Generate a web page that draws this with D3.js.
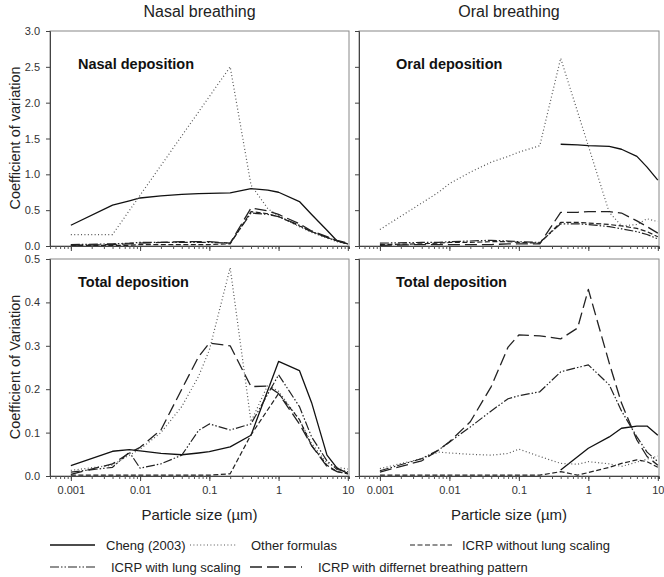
<!DOCTYPE html>
<html><head><meta charset="utf-8">
<script src="https://cdn.jsdelivr.net/npm/d3@7"></script>
<style>
body{margin:0;background:#fff;}
svg text{font-family:"Liberation Sans",Arial,sans-serif;}
</style></head><body>
<svg id="c" width="664" height="577"></svg>
<script>
// Particle sizes (µm)
const sizes = [0.001, 0.004, 0.007, 0.01, 0.02, 0.04, 0.07, 0.1, 0.2, 0.4, 0.7, 1, 2, 3, 5, 7, 10];
const seriesNames = ["Cheng (2003)", "Other formulas", "ICRP without lung scaling", "ICRP with lung scaling", "ICRP with differnet breathing pattern"];
const columnTitles = ["Nasal breathing", "Oral breathing"];
const panelTitles = ["Nasal deposition", "Oral deposition", "Total deposition", "Total deposition"];
const topTicks = [0, 0.5, 1.0, 1.5, 2.0, 2.5, 3.0];
const bottomTicks = [0, 0.1, 0.2, 0.3, 0.4, 0.5];
const xTickLabels = [0.001, 0.01, 0.1, 1, 10];

// Nasal breathing – nasal deposition
const nasalCheng  = [0.29, 0.57, 0.63, 0.67, 0.70, 0.72, 0.73, 0.735, 0.74, 0.80, 0.78, 0.75, 0.62, 0.44, 0.22, 0.07, 0.03];
const nasalOther  = [0.16, 0.16, null, null, null, null, null, null, 2.50, 0.85, 0.52, 0.42, 0.27, 0.19, 0.11, 0.06, 0.03];
const nasalNoLung = [0.01, 0.01, 0.01, 0.02, 0.02, 0.02, 0.02, 0.02, 0.03, 0.48, 0.45, 0.41, 0.28, 0.20, 0.12, 0.07, 0.03];
const nasalLung   = [0.02, 0.03, 0.04, 0.05, 0.05, 0.05, 0.05, 0.05, 0.04, 0.46, 0.44, 0.41, 0.29, 0.20, 0.12, 0.07, 0.03];
const nasalBreath = [0.01, 0.02, 0.03, 0.04, 0.05, 0.06, 0.06, 0.06, 0.04, 0.53, 0.49, 0.44, 0.31, 0.21, 0.13, 0.08, 0.04];

// Oral breathing – oral deposition
const oralCheng  = [null, null, null, null, null, null, null, null, null, 1.42, 1.41, 1.40, 1.39, 1.35, 1.25, 1.10, 0.92];
const oralOther  = [0.23, 0.60, 0.75, 0.87, 1.03, 1.17, 1.25, 1.31, 1.40, 2.62, null, null, 0.47, 0.28, 0.30, 0.38, 0.34];
const oralNoLung = [0.02, 0.03, 0.04, 0.05, 0.05, 0.06, 0.06, 0.05, 0.04, 0.33, 0.33, 0.32, 0.30, 0.28, 0.245, 0.20, 0.13];
const oralLung   = [0.04, 0.05, 0.05, 0.06, 0.07, 0.08, 0.07, 0.06, 0.05, 0.31, 0.31, 0.30, 0.27, 0.24, 0.20, 0.16, 0.10];
const oralBreath = [0.01, 0.02, 0.02, 0.02, 0.02, 0.02, 0.03, 0.03, 0.03, 0.47, 0.47, 0.48, 0.48, 0.46, 0.35, 0.27, 0.18];

// Nasal breathing – total deposition
const totNCheng  = [0.024, 0.057, 0.061, 0.058, 0.052, 0.049, 0.053, 0.056, 0.067, 0.094, null, 0.264, 0.243, 0.169, 0.048, 0.018, 0.006];
const totNOther  = [0.013, 0.025, 0.048, 0.062, 0.10, 0.16, 0.23, 0.29, 0.48, 0.125, 0.21, 0.195, 0.13, 0.075, 0.03, 0.02, 0.016];
const totNNoLung = [0.002, 0.002, 0.002, 0.002, 0.002, 0.002, 0.002, 0.002, 0.005, 0.095, null, 0.19, 0.13, 0.07, 0.025, 0.01, 0.005];
const totNLung   = [0.009, 0.02, 0.055, 0.018, 0.028, 0.048, 0.105, 0.12, 0.106, 0.12, null, 0.233, 0.16, 0.09, 0.035, 0.015, 0.01];
const totNBreath = [0.004, 0.028, 0.053, 0.066, 0.106, 0.20, 0.275, 0.306, 0.30, 0.206, 0.207, 0.19, 0.12, 0.07, 0.022, 0.01, 0.005];

// Oral breathing – total deposition
const totOCheng  = [null, null, null, null, null, null, null, null, null, 0.014, null, 0.064, 0.09, 0.11, 0.115, 0.115, 0.094];
const totOOther  = [0.017, 0.04, 0.055, 0.053, 0.05, 0.048, 0.052, 0.062, 0.045, 0.029, 0.027, 0.033, 0.028, 0.022, 0.032, 0.039, 0.046];
const totONoLung = [0.002, 0.002, 0.002, 0.002, 0.002, 0.002, 0.002, 0.002, 0.002, 0.01, 0.002, 0.008, 0.02, 0.029, 0.037, 0.033, 0.02];
const totOLung   = [0.012, 0.04, 0.06, 0.078, 0.113, 0.15, 0.178, 0.185, 0.194, 0.24, 0.25, 0.256, 0.21, 0.15, 0.09, 0.055, 0.033];
const totOBreath = [0.009, 0.035, 0.06, 0.079, 0.125, 0.206, 0.297, 0.325, 0.323, 0.316, 0.341, 0.43, 0.26, 0.168, 0.083, 0.045, 0.025];

const panelSeries = [
  [nasalCheng, nasalOther, nasalNoLung, nasalLung, nasalBreath],
  [oralCheng, oralOther, oralNoLung, oralLung, oralBreath],
  [totNCheng, totNOther, totNNoLung, totNLung, totNBreath],
  [totOCheng, totOOther, totONoLung, totOLung, totOBreath]
];

const styles = [
  {stroke:"#111", dash:null, w:1.3},
  {stroke:"#555", dash:"1,2.4", w:1.2},
  {stroke:"#222", dash:"5,2.5", w:1.2},
  {stroke:"#222", dash:"9,2,1.5,2,1.5,2", w:1.2},
  {stroke:"#222", dash:"12,5", w:1.3}
];

const svg = d3.select("#c");
const cols = [{x0:50, x1:349}, {x0:359, x1:659}];
const rows = [{y0:31, y1:246, dom:[0,3], ticks:topTicks}, {y0:259, y1:476, dom:[0,0.5], ticks:bottomTicks}];
const xDomain = [0.0005, 10.4];

function minorTicks(){
  const t=[];
  for(let e=-4;e<=1;e++) for(let k=1;k<=9;k++){ const v=k*Math.pow(10,e); if(v>=xDomain[0]*0.999 && v<=xDomain[1]) t.push(v); }
  return t;
}

rows.forEach((r,ri)=>{
  cols.forEach((c,ci)=>{
    const pi = ri*2+ci;
    const x = d3.scaleLog().domain(xDomain).range([c.x0,c.x1]);
    const y = d3.scaleLinear().domain(r.dom).range([r.y1,r.y0]);
    const g = svg.append("g");
    g.append("rect").attr("x",c.x0).attr("y",r.y0).attr("width",c.x1-c.x0).attr("height",r.y1-r.y0)
      .attr("fill","none").attr("stroke","#888").attr("stroke-width",1);
    const line = d3.line().x(d=>x(d[0])).y(d=>y(d[1]));
    panelSeries[pi].forEach((vals,si)=>{
      const pts = sizes.map((s,i)=>[s,vals[i]]).filter(d=>d[1]!==null);
      const p = g.append("path").datum(pts).attr("d",line).attr("fill","none")
        .attr("stroke",styles[si].stroke).attr("stroke-width",styles[si].w).attr("stroke-linejoin","round");
      if(styles[si].dash) p.attr("stroke-dasharray",styles[si].dash);
    });
    const xm = g.append("g").attr("transform",`translate(0,${r.y1})`)
      .call(d3.axisBottom(x).tickValues(minorTicks()).tickSize(3).tickFormat(""));
    xm.select(".domain").attr("stroke","#444");
    xm.selectAll(".tick line").attr("stroke","#555");
    const xa = g.append("g").attr("transform",`translate(0,${r.y1})`)
      .call(d3.axisBottom(x).tickValues(xTickLabels).tickSize(5).tickPadding(5)
        .tickFormat(ri===1 ? (d=>String(d)) : ""));
    xa.select(".domain").remove();
    xa.selectAll(".tick line").attr("stroke","#444");
    xa.selectAll("text").attr("font-size",11).attr("fill","#333").style("font-family","'Liberation Sans',Arial,sans-serif");
    const ya = g.append("g").attr("transform",`translate(${c.x0},0)`)
      .call(d3.axisLeft(y).tickValues(r.ticks).tickSize(4).tickPadding(6)
        .tickFormat(ci===0 ? d3.format(".1f") : ""));
    ya.select(".domain").attr("stroke","#444");
    ya.selectAll(".tick line").attr("stroke","#444");
    ya.selectAll("text").attr("font-size",11).attr("fill","#333").style("font-family","'Liberation Sans',Arial,sans-serif");
    g.append("text").attr("x", ci===0 ? c.x0+28 : c.x0+37).attr("y", r.y0 + (ri===0 ? 38 : 28))
      .attr("font-size",14.5).attr("font-weight","bold").attr("fill","#111").text(panelTitles[pi]);
    if(ri===0){
      svg.append("text").attr("x",(c.x0+c.x1)/2).attr("y",17).attr("text-anchor","middle")
        .attr("font-size",16).attr("fill","#222").text(columnTitles[ci]);
    } else {
      svg.append("text").attr("x",(c.x0+c.x1)/2).attr("y",520).attr("text-anchor","middle")
        .attr("font-size",15).attr("fill","#222").text("Particle size (\u00B5m)");
    }
  });
});

svg.append("text").attr("transform","translate(20,138) rotate(-90)").attr("text-anchor","middle")
  .attr("font-size",14.5).attr("fill","#222").text("Coefficient of variation");
svg.append("text").attr("transform","translate(20,367) rotate(-90)").attr("text-anchor","middle")
  .attr("font-size",14.5).attr("fill","#222").text("Coefficient of Variation");

// legend
const legendPos = [
  {x:50, y:545, len:45, tx:106}, {x:190, y:545, len:46, tx:251}, {x:410, y:545, len:42, tx:462},
  {x:50, y:567, len:45, tx:111}, {x:250, y:567, len:52, tx:318}
];
legendPos.forEach((p,i)=>{
  const l = svg.append("line").attr("x1",p.x).attr("x2",p.x+p.len).attr("y1",p.y).attr("y2",p.y)
    .attr("stroke",styles[i].stroke).attr("stroke-width",styles[i].w);
  if(styles[i].dash) l.attr("stroke-dasharray",styles[i].dash);
  svg.append("text").attr("x",p.tx).attr("y",p.y+4.5).attr("font-size",13)
    .attr("fill","#222").text(seriesNames[i]);
});
</script>
</body></html>
